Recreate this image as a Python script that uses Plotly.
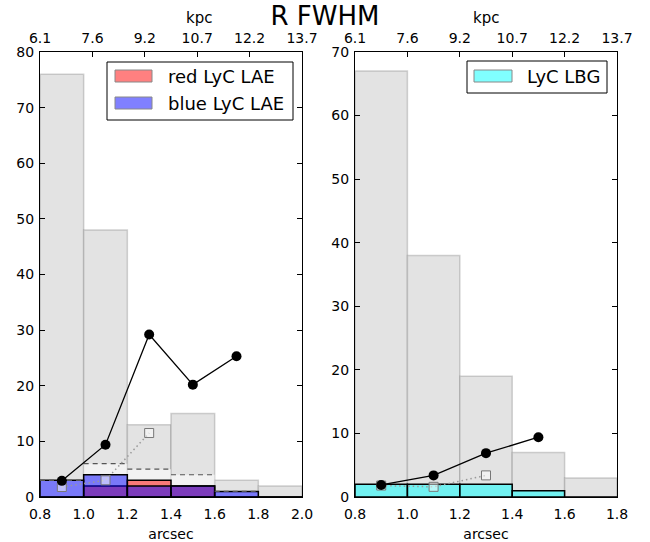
import plotly.graph_objects as go

# ---------------- data ----------------
edges_L = [0.8, 1.0, 1.2, 1.4, 1.6, 1.8, 2.0]
centers_L = [0.9, 1.1, 1.3, 1.5, 1.7, 1.9]
all_lae = [76, 48, 13, 15, 3, 2]
lyc_lae_total = [3, 6, 5, 4, 1, 0]
red_lae = [0, 2, 3, 2, 0, 0]
blue_lae = [3, 4, 2, 2, 1, 0]
frac_x_L = [0.9, 1.1, 1.3, 1.5, 1.7]
frac_L = [2.9, 9.4, 29.2, 20.2, 25.3]
frac2_x_L = [0.9, 1.1, 1.3]
frac2_L = [1.8, 3.0, 11.5]

centers_R = [0.9, 1.1, 1.3, 1.5, 1.7]
all_lbg = [67, 38, 19, 7, 3]
lyc_lbg = [2, 2, 2, 1, 0]
frac_x_R = [0.9, 1.1, 1.3, 1.5]
frac_R = [1.9, 3.4, 6.9, 9.4]
frac2_x_R = [0.9, 1.1, 1.3]
frac2_R = [1.8, 1.6, 3.4]

kpc_labels = ["6.1", "7.6", "9.2", "10.7", "12.2", "13.7"]
kpc_pos = [0, 0.2, 0.4, 0.6, 0.8, 1.0]

# ---------------- styling ----------------
FONT = "DejaVu Sans"
W, H = 650, 542
ML, MR, MT, MB = 40, 33, 52, 45
PW = W - ML - MR
PH = H - MT - MB
BW = 0.2

GRAY_FILL = "rgb(227,227,227)"
GRAY_EDGE = "rgba(128,128,128,0.35)"


def px(x):
    return (x - ML) / PW


def py(y):
    return (H - MB - y) / PH


fig = go.Figure()

# ---- left panel ----
fig.add_trace(go.Bar(x=centers_L, y=all_lae, width=BW, xaxis="x", yaxis="y",
                     marker=dict(color=GRAY_FILL, line=dict(color=GRAY_EDGE, width=1.5)),
                     showlegend=False))
fig.add_trace(go.Bar(x=centers_L, y=lyc_lae_total, width=BW, xaxis="x", yaxis="y",
                     marker=dict(color="rgba(255,255,255,0.55)", line=dict(width=0)),
                     showlegend=False))
fig.add_trace(go.Bar(x=centers_L, y=red_lae, width=BW, xaxis="x", yaxis="y",
                     marker=dict(color="rgba(255,0,0,0.5)", line=dict(color="black", width=1.5)),
                     showlegend=False))
fig.add_trace(go.Bar(x=centers_L, y=blue_lae, width=BW, xaxis="x", yaxis="y",
                     marker=dict(color="rgba(0,0,255,0.5)", line=dict(color="black", width=1.5)),
                     showlegend=False))
# dashed step tops
sx, sy = [], []
for i, v in enumerate(lyc_lae_total):
    if v > 0:
        sx += [edges_L[i], edges_L[i + 1], None]
        sy += [v, v, None]
fig.add_trace(go.Scatter(x=sx, y=sy, mode="lines", xaxis="x", yaxis="y",
                         line=dict(color="#555555", width=1.2, dash="5px,4px"),
                         showlegend=False))
fig.add_trace(go.Scatter(x=frac2_x_L, y=frac2_L, mode="lines+markers", xaxis="x", yaxis="y",
                         line=dict(color="#999999", width=1.5, dash="1.5px,3px"),
                         marker=dict(symbol="square", size=9, color="rgba(255,255,255,0.5)",
                                     line=dict(color="#777777", width=1)),
                         showlegend=False))
fig.add_trace(go.Scatter(x=frac_x_L, y=frac_L, mode="lines+markers", xaxis="x", yaxis="y",
                         line=dict(color="black", width=1.3),
                         marker=dict(symbol="circle", size=10, color="black"),
                         showlegend=False))

# ---- right panel ----
fig.add_trace(go.Bar(x=centers_R, y=all_lbg, width=BW, xaxis="x2", yaxis="y2",
                     marker=dict(color=GRAY_FILL, line=dict(color=GRAY_EDGE, width=1.5)),
                     showlegend=False))
fig.add_trace(go.Bar(x=centers_R, y=lyc_lbg, width=BW, xaxis="x2", yaxis="y2",
                     marker=dict(color="rgba(0,255,255,0.5)", line=dict(color="black", width=1.5)),
                     showlegend=False))
fig.add_trace(go.Scatter(x=frac2_x_R, y=frac2_R, mode="lines+markers", xaxis="x2", yaxis="y2",
                         line=dict(color="#999999", width=1.5, dash="1.5px,3px"),
                         marker=dict(symbol="square", size=9, color="rgba(255,255,255,0.5)",
                                     line=dict(color="#777777", width=1)),
                         showlegend=False))
fig.add_trace(go.Scatter(x=frac_x_R, y=frac_R, mode="lines+markers", xaxis="x2", yaxis="y2",
                         line=dict(color="black", width=1.3),
                         marker=dict(symbol="circle", size=10, color="black"),
                         showlegend=False))

# invisible helper traces so the top (kpc) axes are drawn
for xa, ya in (("x3", "y"), ("x4", "y2")):
    fig.add_trace(go.Scatter(x=kpc_pos, y=[0] * len(kpc_pos), xaxis=xa, yaxis=ya,
                             mode="markers", marker=dict(opacity=0), hoverinfo="skip",
                             showlegend=False))

tickfont = dict(family=FONT, size=14, color="black")
common_x = dict(showline=True, linecolor="black", linewidth=1, mirror=True, ticks="inside",
                ticklen=5, tickcolor="black", showgrid=False, zeroline=False, dtick=0.2,
                tickformat=".1f", tickfont=tickfont, ticklabelstandoff=4, automargin=False,
                title=dict(text="arcsec", font=dict(family=FONT, size=14, color="black"), standoff=8))
common_y = dict(showline=True, linecolor="black", linewidth=1, mirror="ticks", ticks="inside",
                ticklen=5, tickcolor="black", showgrid=False, zeroline=False, dtick=10,
                tickfont=tickfont, ticklabelstandoff=2, automargin=False)
top_x = dict(side="top", range=[0, 1], tickvals=kpc_pos, ticktext=kpc_labels, ticks="inside",
             ticklen=5, tickcolor="black", showgrid=False, zeroline=False, showline=False,
             tickfont=tickfont, ticklabelstandoff=5, automargin=False)

d1 = [0, (302 - ML) / PW]
d2 = [(355 - ML) / PW, 1]

fig.update_layout(
    template="none",
    width=W, height=H,
    margin=dict(l=ML, r=MR, t=MT, b=MB, autoexpand=False),
    paper_bgcolor="white", plot_bgcolor="white",
    barmode="overlay",
    font=dict(family=FONT, color="black"),
    xaxis=dict(domain=d1, range=[0.8, 2.0], anchor="y", **common_x),
    yaxis=dict(range=[0, 80], anchor="x", **common_y),
    xaxis2=dict(domain=d2, range=[0.8, 1.8], anchor="y2", **common_x),
    yaxis2=dict(range=[0, 70], anchor="x2", **common_y),
    xaxis3=dict(overlaying="x", anchor="y", **top_x),
    xaxis4=dict(overlaying="x2", anchor="y2", **top_x),
    title=dict(text="R FWHM", x=0.5, xref="container", xanchor="center",
               y=1 - 16 / H, yref="container", yanchor="middle",
               font=dict(family=FONT, size=26, color="black")),
)

ann = []
shapes = []
# kpc labels
for cx in (199, 486):
    ann.append(dict(text="kpc", x=px(cx), y=py(18), xref="paper", yref="paper",
                    xanchor="center", yanchor="middle", showarrow=False,
                    font=dict(family=FONT, size=15, color="black")))

# legends (manual, matplotlib-like)
def legend_box(x0, y0, x1, y1):
    shapes.append(dict(type="rect", xref="paper", yref="paper",
                       x0=px(x0), x1=px(x1), y0=py(y1), y1=py(y0),
                       line=dict(color="black", width=1), fillcolor="white", layer="above"))


def legend_item(sx0, sx1, cy, color, text, tx):
    shapes.append(dict(type="rect", xref="paper", yref="paper",
                       x0=px(sx0), x1=px(sx1), y0=py(cy + 6), y1=py(cy - 6),
                       line=dict(color="#888888", width=1), fillcolor=color, layer="above"))
    ann.append(dict(text=text, x=px(tx), y=py(cy), xref="paper", yref="paper",
                    xanchor="left", yanchor="middle", showarrow=False,
                    font=dict(family=FONT, size=18, color="black")))


legend_box(107, 62, 293, 120)
legend_item(115, 152, 76, "#ff8080", "red LyC LAE", 166)
legend_item(115, 152, 103, "#8080ff", "blue LyC LAE", 166)
legend_box(467, 61, 607, 93)
legend_item(474, 512, 76, "#80ffff", "LyC LBG", 525)

fig.update_layout(annotations=ann, shapes=shapes)

fig.write_html("out.html")
